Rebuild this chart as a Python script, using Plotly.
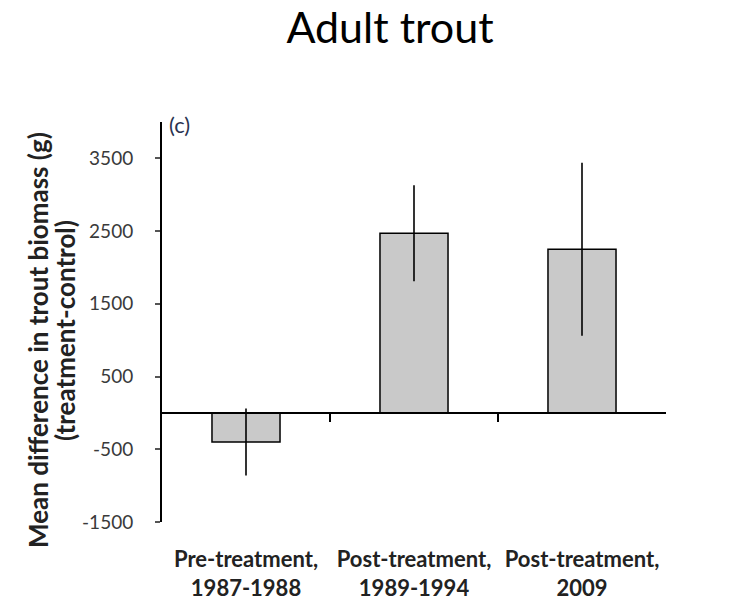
import plotly.graph_objects as go

categories = ["Pre-treatment,<br>1987-1988", "Post-treatment,<br>1989-1994", "Post-treatment,<br>2009"]
means = [-400, 2470, 2250]
errors = [460, 660, 1190]
y_ticks = [-1500, -500, 500, 1500, 2500, 3500]
y_tick_text = ["-1500", "-500", "500", "1500", "2500", "3500"]
y_range = [-1500, 4000]
positions = list(range(len(categories)))
boundaries = [0.5, 1.5]

FONT = "Lato"
L, R, T, B = 162, 68, 122, 81
W, H = 734, 603
PW, PH = W - L - R, H - T - B


def px_x(px):
    return (px - L) / PW


def px_y(py):
    return (H - B - py) / PH


fig = go.Figure()
fig.add_trace(go.Bar(
    x=positions, y=means, width=0.405,
    marker=dict(color="#c9c9c9", line=dict(color="black", width=1.5)),
    error_y=dict(type="data", array=errors, visible=True, color="black", thickness=1.6, width=0),
    showlegend=False,
))
# helper trace for the overlay axis carrying the category boundary ticks
fig.add_trace(go.Scatter(x=[None], y=[None], xaxis="x2", showlegend=False, hoverinfo="skip"))

fig.update_layout(
    width=W, height=H,
    paper_bgcolor="white", plot_bgcolor="white",
    margin=dict(l=L, r=R, t=T, b=B, autoexpand=False),
    title=dict(text="Adult trout", x=390 / W, xanchor="center", y=1 - 28 / H, yanchor="middle",
               font=dict(family=FONT, size=43, color="black"), automargin=False),
    xaxis=dict(range=[-0.5, 2.5], tickvals=positions, ticktext=categories,
               showline=False, showgrid=False, zeroline=False, ticks="", automargin=False,
               tickfont=dict(family=FONT, size=22, color="#222222", weight="bold"),
               ticklabelstandoff=22),
    xaxis2=dict(range=[-0.5, 2.5], overlaying="x", anchor="free", automargin=False,
                position=(0 - y_range[0]) / (y_range[1] - y_range[0]),
                showline=True, linecolor="black", linewidth=2,
                tickvals=boundaries, ticks="outside", ticklen=8, tickwidth=1.5, tickcolor="black",
                showticklabels=False, showgrid=False, zeroline=False),
    yaxis=dict(range=y_range, tickvals=y_ticks, ticktext=y_tick_text, showgrid=False,
               zeroline=False, automargin=False,
               showline=True, linecolor="black", linewidth=2,
               ticks="outside", ticklen=5, tickwidth=1.5, tickcolor="#555555",
               tickfont=dict(family=FONT, size=19, color="#3a3a3a"),
               ticklabelstandoff=18),
    annotations=[
        dict(text="<b>Mean difference in trout biomass (g)</b>",
             textangle=-90, xref="paper", yref="paper",
             x=px_x(38), y=px_y(340), xanchor="center", yanchor="middle",
             showarrow=False, font=dict(family=FONT, size=26, color="#222222")),
        dict(text="<b>(treatment-control)</b>",
             textangle=-90, xref="paper", yref="paper",
             x=px_x(65), y=px_y(331), xanchor="center", yanchor="middle",
             showarrow=False, font=dict(family=FONT, size=26, color="#222222")),
        dict(text="(c)", xref="paper", yref="paper", x=px_x(167), y=px_y(124),
             xanchor="left", yanchor="middle", showarrow=False,
             font=dict(family=FONT, size=22, color="#2a3350")),
    ],
)

fig.write_html("out.html", config={"displayModeBar": False},
               post_script="document.body.style.margin='0';")
